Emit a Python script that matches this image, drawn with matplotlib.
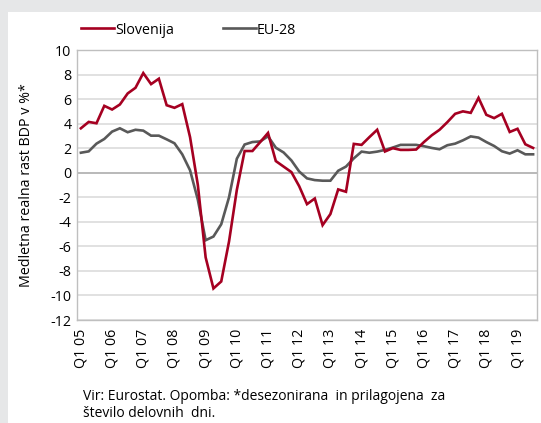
import matplotlib
matplotlib.use("Agg")
import matplotlib.pyplot as plt
from matplotlib.patches import Rectangle

plt.rcParams['font.family'] = ['Open Sans', 'DejaVu Sans']

quarters = [f"Q{q} {y:02d}" for y in range(5, 20) for q in range(1, 5)][:59]

slovenija = [3.62, 4.14, 4.03, 5.45, 5.15, 5.56, 6.46, 6.92, 8.12, 7.22,
             7.66, 5.50, 5.29, 5.59, 2.90, -1.00, -6.90, -9.43, -8.86, -5.60,
             -1.40, 1.77, 1.77, 2.50, 3.24, 0.95, 0.50, 0.05, -1.10, -2.56,
             -2.10, -4.27, -3.37, -1.36, -1.55, 2.35, 2.27, 2.90, 3.50, 1.73,
             2.00, 1.86, 1.86, 1.89, 2.50, 3.05, 3.50, 4.12, 4.80, 5.00,
             4.88, 6.10, 4.72, 4.45, 4.80, 3.32, 3.58, 2.32, 2.02]

eu28 = [1.63, 1.74, 2.37, 2.75, 3.35, 3.62, 3.30, 3.50, 3.43, 3.02,
        3.02, 2.72, 2.40, 1.50, 0.20, -2.20, -5.50, -5.20, -4.20, -2.00,
        1.14, 2.30, 2.50, 2.55, 2.97, 2.04, 1.65, 1.00, 0.10, -0.46,
        -0.60, -0.65, -0.65, 0.16, 0.50, 1.17, 1.72, 1.63, 1.72, 1.86,
        2.05, 2.27, 2.27, 2.27, 2.16, 2.02, 1.91, 2.24, 2.37, 2.64,
        2.96, 2.86, 2.50, 2.18, 1.75, 1.56, 1.83, 1.50, 1.50]

yticks = list(range(-12, 11, 2))

W, H = 541, 423
fig = plt.figure(figsize=(W / 100, H / 100), dpi=100)
fig.patch.set_facecolor('white')
# gray frame strips (left and top)
fig.patches.append(Rectangle((0, 0), 8 / W, 1, transform=fig.transFigure,
                             facecolor='#e6e7e8', edgecolor='none', zorder=0))
fig.patches.append(Rectangle((0, 1 - 12 / H), 1, 12 / H, transform=fig.transFigure,
                             facecolor='#e6e7e8', edgecolor='none', zorder=0))

ax = fig.add_axes([77 / W, (H - 320) / H, (537 - 77) / W, (320 - 50) / H])
x = list(range(len(quarters)))
l1, = ax.plot(x, slovenija, color='#a50021', lw=1.9, label='Slovenija', zorder=3,
              solid_joinstyle='miter')
l2, = ax.plot(x, eu28, color='#595959', lw=1.9, label='EU-28', zorder=2,
              solid_joinstyle='miter')

ax.set_xlim(-0.5, len(quarters) - 0.5)
ax.set_ylim(-12, 10)
ax.set_yticks(yticks)
ax.set_yticklabels([str(v) for v in yticks])
ax.set_xticks(x[::4])
ax.set_xticklabels(quarters[::4], rotation=90)
ax.tick_params(axis='both', length=0, labelsize=10.3, colors='#000000')
ax.tick_params(axis='y', pad=4)
ax.tick_params(axis='x', pad=6)
for v in yticks:
    ax.axhline(v, color='#a6a6a6' if v == 0 else '#d9d9d9', lw=1.1, zorder=1)
for s in ax.spines.values():
    s.set_color('#bfbfbf')
    s.set_linewidth(1.0)

ax.set_ylabel('Medletna realna rast BDP v %*', fontsize=10.3)
ax.yaxis.set_label_coords(-0.093, 0.5)

leg = fig.legend(handles=[l1, l2], loc='center left',
                 bbox_to_anchor=(68 / W, 1 - 30 / H), ncol=2, frameon=False,
                 fontsize=10.3, handlelength=2.3, handletextpad=0.1,
                 columnspacing=3.4)

fig.text(83 / W, 1 - 396 / H, 'Vir: Eurostat. Opomba: *desezonirana  in prilagojena  za',
         fontsize=10, va='center', ha='left')
fig.text(83 / W, 1 - 413 / H, 'število delovnih  dni.',
         fontsize=10, va='center', ha='left')

fig.savefig('out.png', dpi=100)
